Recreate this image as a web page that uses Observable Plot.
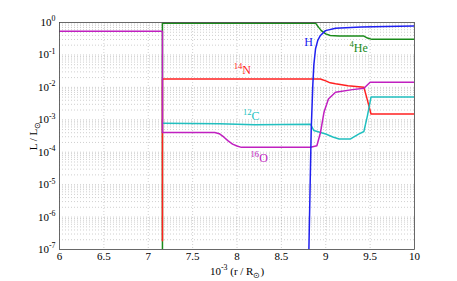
<!DOCTYPE html>
<html><head><meta charset="utf-8">
<script src="https://cdn.jsdelivr.net/npm/d3@7"></script>
<script src="https://cdn.jsdelivr.net/npm/@observablehq/plot@0.6"></script>
<style>
body{margin:0;background:#fff}
#chart svg, #chart svg text, #chart svg tspan {font-family: "Liberation Serif", "Times New Roman", serif !important;}
</style>
</head><body><div id="chart"></div>
<script>
const xTicks = [6, 6.5, 7, 7.5, 8, 8.5, 9, 9.5, 10];
const yTickExps = [-7, -6, -5, -4, -3, -2, -1, 0];

// series (x in 10^-3 r/Rsun, value as log10(L/Lsun))
const hX   = [8.80, 8.81, 8.836, 8.854, 8.866, 8.885, 8.91, 8.94, 8.997, 9.11, 9.4, 9.67, 10];
const hLog = [-8, -7, -3.33, -1.94, -1.3, -0.81, -0.55, -0.4, -0.25, -0.18, -0.14, -0.12, -0.11];

const heX   = [7.16, 7.16, 8.0, 8.885, 8.92, 8.95, 9.0, 9.05, 9.15, 9.43, 9.47, 9.52, 10];
const heLog = [-8, -0.02, -0.02, -0.02, -0.15, -0.25, -0.35, -0.40, -0.42, -0.42, -0.48, -0.52, -0.52];

const nX   = [7.16, 7.16, 8.94, 9.0, 9.05, 9.11, 9.25, 9.43, 9.47, 9.51, 10];
const nLog = [-6.73, -1.74, -1.74, -1.8, -1.86, -1.89, -1.95, -2.0, -2.4, -2.82, -2.82];

const cX   = [7.16, 7.8, 8.2, 8.83, 8.865, 9.0, 9.08, 9.15, 9.28, 9.37, 9.43, 9.47, 9.51, 10];
const cLog = [-3.11, -3.12, -3.15, -3.14, -3.33, -3.44, -3.53, -3.59, -3.59, -3.44, -3.36, -2.87, -2.3, -2.3];

const oX   = [6, 7.16, 7.16, 7.75, 7.8, 7.85, 7.9, 7.95, 8.0, 8.05, 8.8, 8.83, 8.9, 8.94, 8.98, 9.03, 9.11, 9.3, 9.43, 9.5, 10];
const oLog = [-0.27, -0.27, -3.39, -3.39, -3.43, -3.53, -3.65, -3.75, -3.81, -3.85, -3.85, -3.85, -3.8, -3.4, -2.77, -2.36, -2.15, -2.07, -2.03, -1.84, -1.84];

const labelNames = ["H", "^{4}He", "^{14}N", "^{12}C", "^{16}O"];
const labelX     = [8.806, 9.37, 8.06, 8.16, 8.25];
const labelLog   = [-0.61, -0.79, -1.48, -2.9, -4.17];
const labelColor = ["#2020f0", "#1a8a1a", "#ff2020", "#20bfbf", "#c020c0"];

const toRows = (xs, ls) => xs.map((x, i) => ({x, y: Math.pow(10, ls[i])}));
const yTicks = yTickExps.map(k => Math.pow(10, k));
const yMinor = [];
for (let k = -7; k < 0; k++) for (let m = 2; m <= 9; m++) yMinor.push(m * Math.pow(10, k));
const labels = labelNames.map((t, i) => ({t, x: labelX[i], y: Math.pow(10, labelLog[i]), c: labelColor[i]}));

const grid = {stroke: "#999", strokeOpacity: 0.8, strokeDasharray: "1,2", strokeWidth: 0.6};

const chart = Plot.plot({
  width: 457, height: 281,
  marginLeft: 59, marginRight: 43, marginTop: 22, marginBottom: 32,
  style: {fontFamily: "Liberation Serif, serif", fontSize: "10px", background: "#fff"},
  x: {domain: [6, 10]},
  y: {type: "log", domain: [1e-7, 1]},
  marks: [
    Plot.gridX(xTicks.slice(1, -1), grid),
    Plot.gridY(yMinor, grid),
    Plot.gridY(yTicks.slice(1, -1), grid),
    Plot.axisX({ticks: xTicks, tickSize: 0, tickPadding: 3, tickFormat: d => String(d),
      label: "10^{-3} (r / R_{⊙})", labelAnchor: "center", labelArrow: false, labelOffset: 25, fontSize: 11}),
    Plot.axisY({ticks: yTicks, tickSize: 0, tickPadding: 4,
      tickFormat: d => "10^{" + Math.round(Math.log10(d)) + "}",
      label: "L / L_{⊙}", labelAnchor: "center", labelArrow: false, labelOffset: 30, fontSize: 11}),
    Plot.line(toRows(heX, heLog), {x: "x", y: "y", stroke: labelColor[1], strokeWidth: 1.5, clip: true}),
    Plot.line(toRows(nX, nLog), {x: "x", y: "y", stroke: labelColor[2], strokeWidth: 1.5, clip: true}),
    Plot.line(toRows(cX, cLog), {x: "x", y: "y", stroke: labelColor[3], strokeWidth: 1.5, clip: true}),
    Plot.line(toRows(oX, oLog), {x: "x", y: "y", stroke: labelColor[4], strokeWidth: 1.5, clip: true}),
    Plot.line(toRows(hX, hLog), {x: "x", y: "y", stroke: labelColor[0], strokeWidth: 1.5, clip: true}),
    Plot.text(labels, {x: "x", y: "y", text: "t", fill: "c", fontSize: 12, className: "iso"}),
    Plot.frame({stroke: "#444", strokeWidth: 0.8})
  ]
});
document.getElementById("chart").appendChild(chart);

// rich text: ^{..} superscript, _{..} subscript
function richify(node) {
  const s = node.textContent;
  if (!/[\^_]\{/.test(s)) return;
  const fs = parseFloat(getComputedStyle(node).fontSize) || 10;
  node.textContent = "";
  const re = /(\^|_)\{([^}]*)\}/g;
  let last = 0, m, shift = 0;
  const add = (txt, kind) => {
    const t = document.createElementNS("http://www.w3.org/2000/svg", "tspan");
    const target = kind === "sup" ? -0.42 * fs : kind === "sub" ? 0.28 * fs : 0;
    if (target - shift !== 0) t.setAttribute("dy", (target - shift).toFixed(2));
    shift = target;
    if (kind) t.setAttribute("font-size", (fs * 0.72).toFixed(1));
    t.textContent = txt;
    node.appendChild(t);
  };
  while ((m = re.exec(s))) {
    if (m.index > last) add(s.slice(last, m.index), null);
    add(m[2], m[1] === "^" ? "sup" : "sub");
    last = re.lastIndex;
  }
  if (last < s.length) add(s.slice(last), null);
}
chart.querySelectorAll("text").forEach(richify);
</script>
</body></html>
